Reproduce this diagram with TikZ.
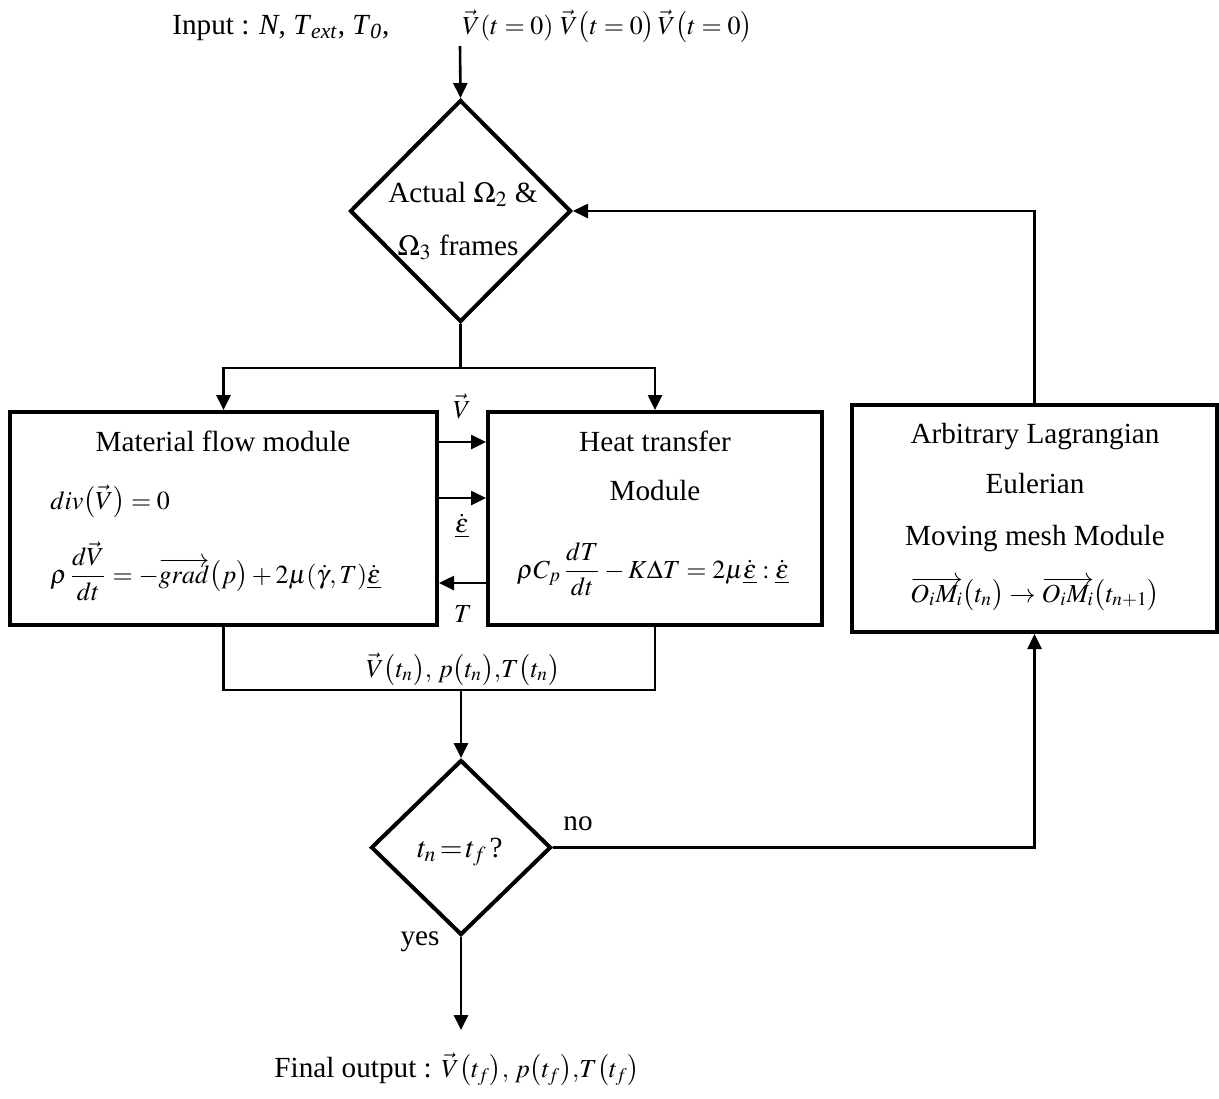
\documentclass[tikz,border=0pt]{standalone}
\usepackage{mathptmx}
\usepackage{fontspec}
\setmainfont{Liberation Serif}
\usetikzlibrary{shapes.geometric,arrows.meta}
\newcommand{\msz}{\fontsize{13}{15}\selectfont}
\begin{document}
\begin{tikzpicture}[x=0.5pt,y=-0.5pt,
  every node/.style={font={\fontsize{14.6}{17}\selectfont}, inner sep=0pt},
  mth/.style={font={\msz}},
  box/.style={draw, line width=2pt, rectangle, inner sep=0pt},
  dia/.style={draw, line width=2pt, diamond, inner sep=0pt},
  line/.style={line width=1.3pt},
  arr/.style={line width=1.3pt, -{Triangle[length=7.5pt,width=7pt]}},
  lbl/.style={anchor=base},
  lblw/.style={anchor=base west}
]
\useasboundingbox (0,0) rectangle (1219,1098);

% input
\node[lblw] (inp) at (172,34) {Input : \textit{N}, \textit{T}\textsubscript{\textit{ext}}, \textit{T}\textsubscript{\textit{0}},};
\node[lblw, mth] (inv) at (462,34) {$\vec V(t=0)$ $\vec V\bigl(t=0\bigr)\,\vec V\bigl(t=0\bigr)$};
\coordinate (inS) at (460,46);

% diamond 1
\node[dia, minimum width=110.5pt, minimum height=111pt] (d1) at (460.5,211) {};
\node[lbl] (d1a) at (463,202) {Actual $\Omega_2$ \&};
\node[lbl] (d1b) at (458,255) {$\Omega_3$ frames};

% boxes
\node[box, minimum width=213.5pt, minimum height=106.5pt] (L) at (223.5,518.5) {};
\node[box, minimum width=167pt, minimum height=106.5pt] (M) at (655,518.5) {};
\node[box, minimum width=182.5pt, minimum height=113.5pt] (R) at (1034.5,518.5) {};

% left box text
\node[lbl] (Lt) at (223,451) {Material flow module};
\node[lblw, mth] (Le1) at (50,509) {$div\bigl(\vec V\bigr)=0$};
\node[lblw, mth] (Le2) at (50,583) {$\displaystyle\rho\,\frac{d\vec V}{dt}=-\overrightarrow{grad}\bigl(p\bigr)+2\mu(\dot\gamma,T)\underline{\dot\varepsilon}$};

% middle box text
\node[lbl] (Mt1) at (655,451) {Heat transfer};
\node[lbl] (Mt2) at (655,500) {Module};
\node[lbl, mth] (Me) at (653,578) {$\displaystyle\rho C_p\,\frac{dT}{dt}-K\Delta T=2\mu\underline{\dot\varepsilon}:\underline{\dot\varepsilon}$};

% right box text
\node[lbl] (Rt1) at (1035,443) {Arbitrary Lagrangian};
\node[lbl] (Rt2) at (1035,493) {Eulerian};
\node[lbl] (Rt3) at (1035,545) {Moving mesh Module};
\node[lbl, mth] (Re) at (1035,602) {$\overrightarrow{O_iM_i}\bigl(t_n\bigr)\rightarrow\overrightarrow{O_iM_i}\bigl(t_{n+1}\bigr)$};

% exchange labels
\node[lbl, mth] (lV) at (462,418) {$\vec V$};
\node[lbl, mth] (lE) at (462,532) {$\underline{\dot\varepsilon}$};
\node[lbl, mth] (lT) at (463,622) {$T$};

% bottom label
\node[lbl, mth] (bl) at (463,677) {$\vec V\bigl(t_n\bigr),\,p\bigl(t_n\bigr){,}T\bigl(t_n\bigr)$};

% diamond 2
\node[dia, minimum width=90pt, minimum height=87.5pt] (d2) at (461,847.5) {};
\node[lbl] (d2t) at (460,857) {$t_n\!=\!t_f\,$?};
\node[lbl] (no) at (578,830) {no};
\node[lbl] (yes) at (420,945) {yes};

% final output
\coordinate (fin) at (461,1030);
\node[lbl] (fo) at (457,1077) {Final output : {\msz$\vec V\bigl(t_f\bigr),\,p\bigl(t_f\bigr){,}T\bigl(t_f\bigr)$}};

% coordinates
\coordinate (split) at (460.5,368);
\coordinate (join) at (461,690);
\coordinate (y1) at (0,442);
\coordinate (y2) at (0,498);
\coordinate (y3) at (0,583);

% connectors
\draw[arr] (inS) -- (d1.north);
\draw[line] (d1.south) -- (split);
\draw[arr] (split) -| (L.north);
\draw[arr] (split) -| (M.north);
\draw[arr] (L.east |- y1) -- (M.west |- y1);
\draw[arr] (L.east |- y2) -- (M.west |- y2);
\draw[arr] (M.west |- y3) -- (L.east |- y3);
\draw[line] (L.south) |- (join) -| (M.south);
\draw[arr] (join) -- (d2.north);
\draw[arr] (d2.east) -| (R.south);
\draw[arr] (R.north) |- (d1.east);
\draw[arr] (d2.south) -- (fin);
\end{tikzpicture}
\end{document}
